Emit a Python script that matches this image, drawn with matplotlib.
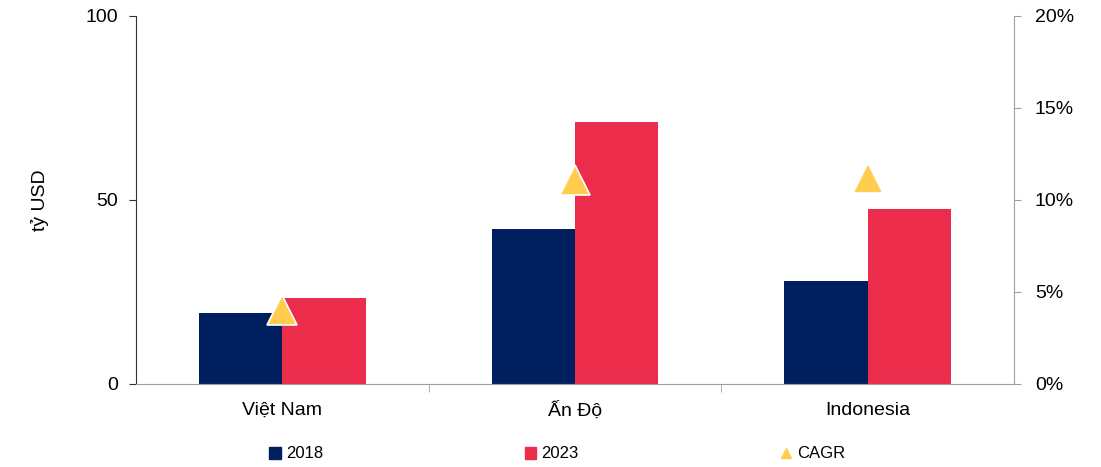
import matplotlib
matplotlib.use("Agg")
import matplotlib.pyplot as plt
import numpy as np
from matplotlib.lines import Line2D
from matplotlib.patches import Patch

plt.rcParams["font.family"] = ["Liberation Sans", "DejaVu Sans"]

countries = ["Việt Nam", "Ấn Độ", "Indonesia"]
v2018 = [19.3, 42.1, 28.0]
v2023 = [23.4, 71.2, 47.6]
cagr = [4.0, 11.1, 11.2]  # %

C18 = "#001f5f"
C23 = "#eb2d4b"
CTRI = "#ffcc4d"

fig = plt.figure(figsize=(11.01, 4.67), dpi=100)
ax = fig.add_axes([136 / 1101, 83 / 467, 878 / 1101, 368 / 467])
ax2 = ax.twinx()

x = np.arange(len(countries))
w = 0.285
ax.bar(x - w / 2, v2018, w, color=C18, zorder=2)
ax.bar(x + w / 2, v2023, w, color=C23, zorder=2)
ax2.plot(x, cagr, linestyle="none", marker="^", markersize=21, color=CTRI,
         markeredgecolor="white", markeredgewidth=1.2, zorder=3)

ax.set_xlim(-0.5, 2.5)
ax.set_ylim(0, 100)
ax.set_yticks([0, 50, 100])
ax2.set_ylim(0, 20)
ax2.set_yticks([0, 5, 10, 15, 20])
ax2.set_yticklabels([f"{t}%" for t in [0, 5, 10, 15, 20]])

ax.set_xticks(x)
ax.set_xticklabels(countries)
ax.set_xticks([0.5, 1.5], minor=True)
ax.tick_params(axis="x", which="major", length=0, labelsize=14, pad=13)
ax.tick_params(axis="x", which="minor", length=6, color="#a0a0a0", direction="out")
ax.tick_params(axis="y", labelsize=14, length=5, color="#333333", pad=8)
ax2.tick_params(axis="y", labelsize=14, length=5, color="#a0a0a0", pad=10)
ax.set_ylabel("tỷ USD", fontsize=14, labelpad=26)

for a in (ax, ax2):
    a.spines["top"].set_visible(False)
ax.spines["left"].set_color("#333333")
ax.spines["right"].set_visible(False)
ax2.spines["left"].set_visible(False)
ax2.spines["right"].set_color("#a0a0a0")
ax.spines["bottom"].set_color("#a0a0a0")
ax2.spines["bottom"].set_visible(False)

handles = [Patch(color=C18, label="2018"), Patch(color=C23, label="2023"),
           Line2D([], [], linestyle="none", marker="^", color=CTRI, markersize=7, label="CAGR")]
fig.legend(handles=handles, loc="center", bbox_to_anchor=(557 / 1101, 1 - 454 / 467),
           ncol=3, frameon=False, fontsize=12, handlelength=0.7, handleheight=0.7,
           handletextpad=0.3, columnspacing=12.1)

fig.savefig("out.png", dpi=100)
